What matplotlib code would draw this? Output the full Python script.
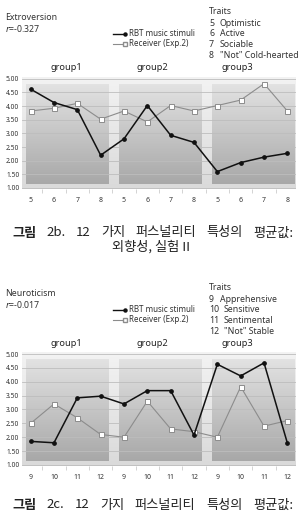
import numpy as np
import matplotlib.pyplot as plt
from matplotlib.colors import LinearSegmentedColormap

# ---- data ----
groups = ['group1', 'group2', 'group3']
ext_ticks = ['5', '6', '7', '8'] * 3
ext_rbt = [4.62, 4.13, 3.87, 2.20, 2.80, 4.02, 2.93, 2.67, 1.60, 1.93, 2.13, 2.27]
ext_recv = [3.82, 3.92, 4.10, 3.52, 3.82, 3.42, 4.02, 3.82, 4.02, 4.22, 4.82, 3.82]
ext_traits = [('5', 'Optimistic'), ('6', 'Active'), ('7', 'Sociable'), ('8', '"Not" Cold-hearted')]

neu_ticks = ['9', '10', '11', '12'] * 3
neu_rbt = [1.85, 1.80, 3.42, 3.48, 3.20, 3.68, 3.68, 2.08, 4.63, 4.21, 4.68, 1.79]
neu_recv = [2.50, 3.20, 2.70, 2.10, 2.00, 3.30, 2.30, 2.20, 2.00, 3.82, 2.40, 2.60]
neu_traits = [('9', 'Apprehensive'), ('10', 'Sensitive'), ('11', 'Sentimental'), ('12', '"Not" Stable')]

yticks = np.arange(1.0, 5.01, 0.5)

plt.rcParams['font.family'] = ['Noto Sans', 'DejaVu Sans']
W, H = 300, 514
fig = plt.figure(figsize=(W / 100, H / 100), dpi=100)
fig.patch.set_facecolor('white')
renderer = fig.canvas.get_renderer()

bg_cmap = LinearSegmentedColormap.from_list('bg', ['#dadada', '#f3f3f3'])
pn_cmap = LinearSegmentedColormap.from_list('pn', ['#a8a8a8', '#e2e2e2'])
KR = ['Noto Sans CJK KR', 'DejaVu Sans']


def px(x, y):
    return x / W, 1 - y / H


def draw_chart(ax, rbt, recv, ticks):
    n = len(rbt)
    xs = np.arange(n)
    xlim = (-0.37, n - 1 + 0.37)
    ylim = (0.97, 5.08)
    grad = np.linspace(0, 1, 100).reshape(-1, 1)
    ax.imshow(grad, cmap=bg_cmap, origin='lower', aspect='auto',
              extent=(xlim[0], xlim[1], ylim[0], ylim[1]), zorder=0)
    for g in range(3):
        ax.imshow(grad, cmap=pn_cmap, origin='lower', aspect='auto',
                  extent=(4 * g - 0.21, 4 * g + 3.33, 1.15, 4.8), zorder=0.5)
    for v in yticks:
        ax.axhline(v, color='#bdbdbd', lw=0.6, zorder=1)
    ax.plot(xs, recv, color='#8c8c8c', lw=0.8, marker='s', ms=3.6,
            mfc='white', mec='#8c8c8c', mew=0.7, zorder=3)
    ax.plot(xs, rbt, color='#111111', lw=1.1, marker='o', ms=2.4,
            mfc='#111111', mec='#111111', zorder=4)
    ax.set_xlim(*xlim)
    ax.set_ylim(*ylim)
    ax.set_xticks(xs)
    ax.set_xticklabels(ticks, fontsize=5, color='#333333')
    ax.set_xticks(xs[:-1] + 0.5, minor=True)
    ax.tick_params(axis='x', which='major', length=0, pad=6)
    ax.tick_params(axis='x', which='minor', length=3, color='#cccccc', direction='out')
    ax.set_yticks(yticks)
    ax.set_yticklabels(['%.2f' % v for v in yticks], fontsize=4.8, color='#333333')
    ax.tick_params(axis='y', length=0, pad=2)
    for s in ax.spines.values():
        s.set_visible(False)


def header(y0, name, r, traits):
    fig.text(*px(5, y0 + 1), name, fontsize=6.3, color='#333333', va='center')
    fig.text(*px(5, y0 + 12), '$r$=' + r, fontsize=6.3, color='#333333', va='center')
    fig.text(*px(209, y0 - 4), 'Traits', fontsize=6.3, color='#333333', va='center')
    for i, (num, word) in enumerate(traits):
        yy = y0 + 7 + i * 10.7
        fig.text(*px(209, yy), num, fontsize=6.3, color='#333333', va='center')
        fig.text(*px(220 if len(num) == 1 else 224, yy), word, fontsize=6.3,
                 color='#333333', va='center')
    # legend
    ly = y0 + 18
    fig.lines.append(plt.Line2D([113 / W, 125 / W], [1 - ly / H] * 2, color='#111111',
                                lw=1.0, marker='o', ms=2.2, markevery=[1],
                                transform=fig.transFigure))
    fig.lines.append(plt.Line2D([113 / W, 125 / W], [1 - (ly + 10) / H] * 2, color='#8c8c8c',
                                lw=0.8, marker='s', ms=3, markevery=[1], mfc='white',
                                transform=fig.transFigure))
    fig.text(*px(129, ly), 'RBT music stimuli', fontsize=5.8, color='#333333', va='center')
    fig.text(*px(129, ly + 10), 'Receiver (Exp.2)', fontsize=5.8, color='#333333', va='center')
    for g, gx in zip(groups, [66, 152, 237]):
        fig.text(*px(gx, y0 + 52), g, fontsize=6.6, fontweight='bold',
                 color='#222222', ha='center', va='center')


def caption(y, words, sub=None, x0=12, x1=293):
    # justify the words between x0 and x1
    texts = []
    for i, w in enumerate(words):
        t = fig.text(*px(x0, y), w, fontsize=9.5, color='#222222', va='center',
                     family=KR, fontweight='bold' if i == 0 else 'normal')
        texts.append(t)
    widths = [t.get_window_extent(renderer).width for t in texts]
    gap = (x1 - x0 - sum(widths)) / (len(words) - 1)
    x = x0
    for t, wd in zip(texts, widths):
        t.set_x(x / W)
        x += wd + gap
    if sub:
        fig.text(*px(151, y + 13.5), sub, fontsize=9.5, color='#222222', va='center',
                 ha='center', family=KR)


cap_words = ['그림', '2b.', '12', '가지', '퍼스널리티', '특성의', '평균값:']

# ---- chart 1: extroversion ----
header(16, 'Extroversion', '-0.327', ext_traits)
ax1 = fig.add_axes([22 / W, 1 - 188.8 / H, 274 / W, 112.2 / H])
draw_chart(ax1, ext_rbt, ext_recv, ext_ticks)
caption(233, cap_words, '외향성, 실험 II')

# ---- chart 2: neuroticism ----
header(292, 'Neuroticism', '-0.017', neu_traits)
ax2 = fig.add_axes([22 / W, 1 - 465.8 / H, 274 / W, 114 / H])
draw_chart(ax2, neu_rbt, neu_recv, neu_ticks)
cap2 = list(cap_words)
cap2[1] = '2c.'
caption(505, cap2)

fig.savefig('out.png', dpi=100, facecolor='white')
